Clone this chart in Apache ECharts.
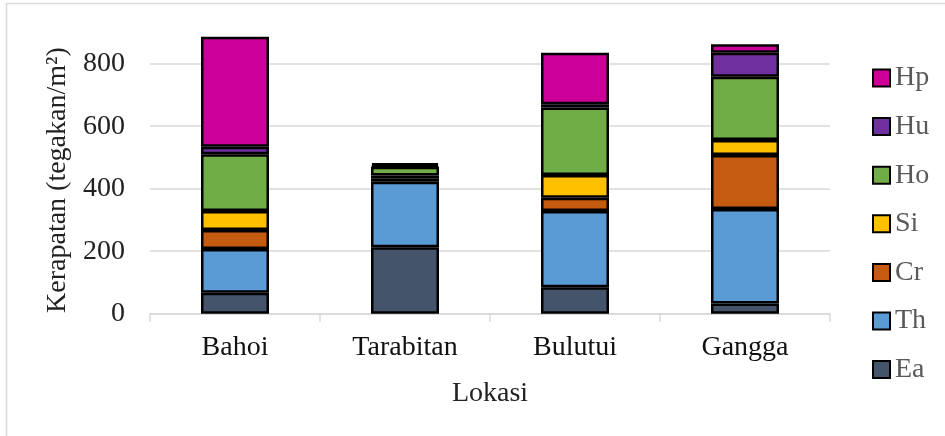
<!DOCTYPE html>
<html lang="id">
<head>
    <meta charset="UTF-8">
    <title>Kerapatan</title>
    <script src="https://cdn.jsdelivr.net/npm/echarts@6/dist/echarts.min.js"></script>
    <style>
        *{padding:0;margin:0;box-sizing:border-box;}
        html,body{width:945px;height:436px;background:#fff;}
        #main{width:945px;height:436px;}
    </style>
</head>
<body>
    <div id="main"></div>
    <script>
        // data
        var lokasi = ["Bahoi", "Tarabitan", "Bulutui", "Gangga"]
        var Ea = [67, 213, 85, 33]
        var Th = [140, 209, 244, 302]
        var Cr = [61, 10, 42, 173]
        var Si = [61, 10, 73, 48]
        var Ho = [181, 28, 216, 202]
        var Hu = [24, 5, 10, 77]
        var Hp = [352, 6, 165, 27]
        var yTicks = {min: 0, max: 900, interval: 200}

        var font = "Liberation Serif"
        var myChart = echarts.init(document.getElementById("main"))

        function seri(name, data, color){
            return {
                name: name,
                type: "bar",
                stack: "total",
                data: data,
                barWidth: "40%",
                itemStyle: {color: color, borderColor: "#000", borderWidth: 2.5},
                emphasis: {disabled: true}
            }
        }

        var option = {
            animation: false,
            textStyle: {fontFamily: font},
            grid: {left: 150, right: 115, top: 32.5, bottom: 122.3},
            graphic: [{
                type: "rect",
                shape: {x: 6.5, y: 3.5, width: 960, height: 460}, // bingkai, kanan & bawah di luar gambar
                style: {fill: null, stroke: "#d9d9d9", lineWidth: 1.5}
            }],
            legend: {
                orient: "vertical",
                left: 867,
                top: 59,
                itemWidth: 17,
                itemHeight: 17,
                itemGap: 20.6,
                icon: "rect",
                data: ["Hp", "Hu", "Ho", "Si", "Cr", "Th", "Ea"],
                textStyle: {fontFamily: font, fontSize: 28, color: "#595959"}
            },
            xAxis: {
                type: "category",
                data: lokasi,
                name: "Lokasi",
                nameLocation: "middle",
                nameGap: 66,
                nameTextStyle: {fontFamily: font, fontSize: 28, color: "#222"},
                axisLine: {lineStyle: {color: "#d9d9d9", width: 1.5}},
                axisTick: {show: true, length: 8, lineStyle: {color: "#d9d9d9", width: 1.5}},
                axisLabel: {fontFamily: font, fontSize: 28, color: "#111", margin: 20}
            },
            yAxis: {
                type: "value",
                min: yTicks.min,
                max: yTicks.max,
                interval: yTicks.interval,
                name: "Kerapatan (tegakan/m²)",
                nameLocation: "middle",
                nameGap: 76,
                nameTextStyle: {fontFamily: font, fontSize: 28, color: "#222", padding: [0, 14, 0, 0]},
                axisLine: {show: false},
                axisTick: {show: false},
                axisLabel: {fontFamily: font, fontSize: 28, color: "#222", margin: 25, showMaxLabel: false},
                splitLine: {showMaxLine: false, lineStyle: {color: "#d9d9d9", width: 1.5}}
            },
            series: [
                seri("Ea", Ea, "#44546A"),
                seri("Th", Th, "#5B9BD5"),
                seri("Cr", Cr, "#C55A11"),
                seri("Si", Si, "#FFC000"),
                seri("Ho", Ho, "#70AD47"),
                seri("Hu", Hu, "#7030A0"),
                seri("Hp", Hp, "#CC0099")
            ]
        }

        myChart.setOption(option)
        window.onresize = myChart.resize
    </script>
</body>
</html>
